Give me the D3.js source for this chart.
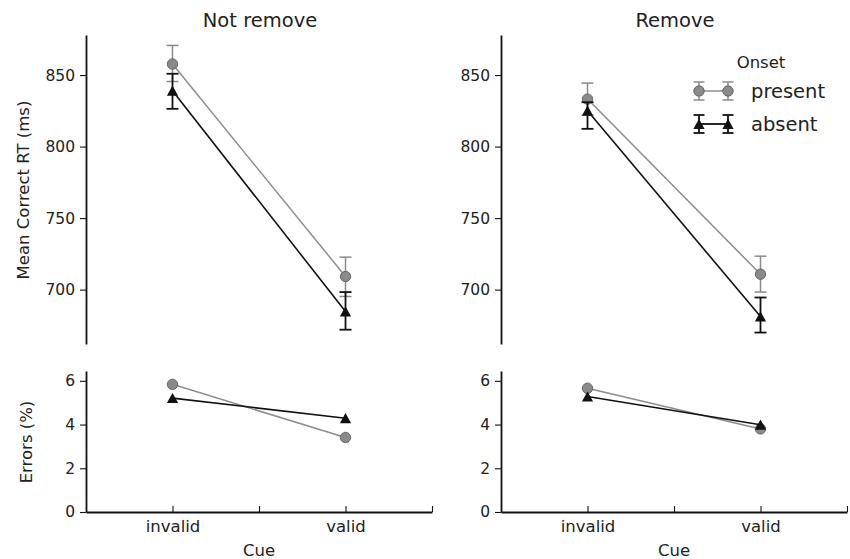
<!DOCTYPE html>
<html>
<head>
<meta charset="utf-8">
<script src="https://cdn.jsdelivr.net/npm/d3@7"></script>
<style>
  html, body { margin: 0; padding: 0; background: #fff; }
  svg text { font-family: "DejaVu Sans", sans-serif; fill: #222; }
</style>
</head>
<body>
<svg id="chart" width="850" height="559"></svg>
<script>
// ---------------- data ----------------
const cues = ["invalid", "valid"];
const cueTicks = [1, 1.5, 2, 2.5];
const panelTitles = ["Not remove", "Remove"];
const seriesNames = ["present", "absent"];
const legendTitle = "Onset";
const rtTicks = [700, 750, 800, 850];
const errTicks = [0, 2, 4, 6];

// Mean correct RT (ms) and CI bounds [low, high]
const rtNotRemovePresent = [857.7, 709.2];
const ciNotRemovePresent = [[845.5, 870.7], [695.2, 722.7]];
const rtNotRemoveAbsent = [839.0, 684.7];
const ciNotRemoveAbsent = [[826.4, 850.9], [672.0, 698.3]];
const rtRemovePresent = [833.2, 710.8];
const ciRemovePresent = [[822.0, 844.4], [698.3, 723.4]];
const rtRemoveAbsent = [825.0, 681.2];
const ciRemoveAbsent = [[812.4, 831.0], [670.0, 694.5]];

// Errors (%)
const errNotRemovePresent = [5.84, 3.41];
const errNotRemoveAbsent = [5.21, 4.29];
const errRemovePresent = [5.66, 3.80];
const errRemoveAbsent = [5.28, 3.99];

// ---------------- drawing ----------------
const svg = d3.select("#chart");
const presentLine = "#8c8c8c", presentFill = "#8a8a8a", presentEdge = "#5e5e5e";
const absentColor = "#111111";
const triPath = "M0,-5.2L5.6,5L-5.6,5Z";

const yTop = d3.scaleLinear().domain([662, 878]).range([344, 35]);
const yBot = d3.scaleLinear().domain([0, 6.45]).range([512, 371]);
const xScales = [
  d3.scaleLinear().domain([0.5, 2.5]).range([86, 432]),
  d3.scaleLinear().domain([0.5, 2.5]).range([501, 847])
];

const panels = [
  { rtP: rtNotRemovePresent, ciP: ciNotRemovePresent, rtA: rtNotRemoveAbsent, ciA: ciNotRemoveAbsent,
    eP: errNotRemovePresent, eA: errNotRemoveAbsent },
  { rtP: rtRemovePresent, ciP: ciRemovePresent, rtA: rtRemoveAbsent, ciA: ciRemoveAbsent,
    eP: errRemovePresent, eA: errRemoveAbsent }
];

function styleAxis(g, fontSize) {
  g.attr("font-family", "DejaVu Sans");
  g.select(".domain").attr("stroke", "#111").attr("stroke-width", 1.8);
  g.selectAll(".tick line").attr("stroke", "#111").attr("stroke-width", 1.1);
  g.selectAll(".tick text").attr("font-size", fontSize).attr("fill", "#222");
}

function drawSeries(g, x, y, vals, ci, isPresent) {
  const color = isPresent ? presentLine : absentColor;
  const line = d3.line().x((d, i) => x(i + 1)).y(d => y(d));
  g.append("path").datum(vals).attr("d", line).attr("fill", "none")
    .attr("stroke", color).attr("stroke-width", isPresent ? 1.5 : 1.6);
  if (ci) {
    const eb = g.append("g").attr("stroke", isPresent ? "#8a8a8a" : absentColor)
      .attr("stroke-width", isPresent ? 1.5 : 1.8);
    ci.forEach((c, i) => {
      const cx = x(i + 1);
      eb.append("line").attr("x1", cx).attr("x2", cx).attr("y1", y(c[0])).attr("y2", y(c[1]));
      eb.append("line").attr("x1", cx - 6).attr("x2", cx + 6).attr("y1", y(c[0])).attr("y2", y(c[0]));
      eb.append("line").attr("x1", cx - 6).attr("x2", cx + 6).attr("y1", y(c[1])).attr("y2", y(c[1]));
    });
  }
  vals.forEach((v, i) => {
    if (isPresent) {
      g.append("circle").attr("cx", x(i + 1)).attr("cy", y(v)).attr("r", 5.2)
        .attr("fill", presentFill).attr("stroke", presentEdge).attr("stroke-width", 0.9);
    } else {
      g.append("path").attr("d", triPath)
        .attr("transform", `translate(${x(i + 1)},${y(v)})`).attr("fill", absentColor);
    }
  });
}

panels.forEach((p, k) => {
  const x = xScales[k];
  const g = svg.append("g");

  // title
  g.append("text").attr("x", (x.range()[0] + x.range()[1]) / 2 + 1).attr("y", 27)
    .attr("text-anchor", "middle").attr("font-size", 19.5).text(panelTitles[k]);

  // top axis (RT)
  const ay = g.append("g").attr("transform", `translate(${x.range()[0]},0)`)
    .call(d3.axisLeft(yTop).tickValues(rtTicks).tickSize(6).tickSizeOuter(0).tickPadding(5)
      .tickFormat(d3.format("d")));
  styleAxis(ay, 15.5);

  // bottom axes (errors)
  const ay2 = g.append("g").attr("transform", `translate(${x.range()[0]},0)`)
    .call(d3.axisLeft(yBot).tickValues(errTicks).tickSize(6).tickSizeOuter(0).tickPadding(5)
      .tickFormat(d3.format("d")));
  styleAxis(ay2, 15.5);

  const ax = g.append("g").attr("transform", `translate(0,${yBot.range()[0]})`)
    .call(d3.axisBottom(x).tickValues(cueTicks).tickSize(-6).tickSizeOuter(0).tickPadding(8)
      .tickFormat(d => (d === 1 ? cues[0] : d === 2 ? cues[1] : "")));
  styleAxis(ax, 16.5);

  // x label
  g.append("text").attr("x", (x.range()[0] + x.range()[1]) / 2).attr("y", 556)
    .attr("text-anchor", "middle").attr("font-size", 16.5).text("Cue");

  // series
  drawSeries(g, x, yTop, p.rtP, p.ciP, true);
  drawSeries(g, x, yTop, p.rtA, p.ciA, false);
  drawSeries(g, x, yBot, p.eP, null, true);
  drawSeries(g, x, yBot, p.eA, null, false);
});

// y labels
svg.append("text").attr("transform", "translate(29,190) rotate(-90)")
  .attr("text-anchor", "middle").attr("font-size", 16.5).text("Mean Correct RT (ms)");
svg.append("text").attr("transform", "translate(32,442) rotate(-90)")
  .attr("text-anchor", "middle").attr("font-size", 16.5).text("Errors (%)");

// legend
const lg = svg.append("g");
lg.append("text").attr("x", 761).attr("y", 68).attr("text-anchor", "middle")
  .attr("font-size", 16.5).text(legendTitle);
const legendRows = [{ name: seriesNames[0], y: 91, present: true }, { name: seriesNames[1], y: 124, present: false }];
legendRows.forEach(r => {
  const color = r.present ? presentLine : absentColor;
  lg.append("line").attr("x1", 699).attr("x2", 728).attr("y1", r.y).attr("y2", r.y)
    .attr("stroke", color).attr("stroke-width", r.present ? 1.5 : 1.8);
  [699, 728].forEach(cx => {
    const e = lg.append("g").attr("stroke", r.present ? "#8a8a8a" : absentColor)
      .attr("stroke-width", r.present ? 1.5 : 1.8);
    e.append("line").attr("x1", cx).attr("x2", cx).attr("y1", r.y - 9).attr("y2", r.y + 9);
    e.append("line").attr("x1", cx - 5.5).attr("x2", cx + 5.5).attr("y1", r.y - 9).attr("y2", r.y - 9);
    e.append("line").attr("x1", cx - 5.5).attr("x2", cx + 5.5).attr("y1", r.y + 9).attr("y2", r.y + 9);
    if (r.present) {
      lg.append("circle").attr("cx", cx).attr("cy", r.y).attr("r", 5.2)
        .attr("fill", presentFill).attr("stroke", presentEdge).attr("stroke-width", 0.9);
    } else {
      lg.append("path").attr("d", triPath).attr("transform", `translate(${cx},${r.y})`).attr("fill", absentColor);
    }
  });
  lg.append("text").attr("x", 751).attr("y", r.y + 7).attr("font-size", 19.5).text(r.name);
});
</script>
</body>
</html>
